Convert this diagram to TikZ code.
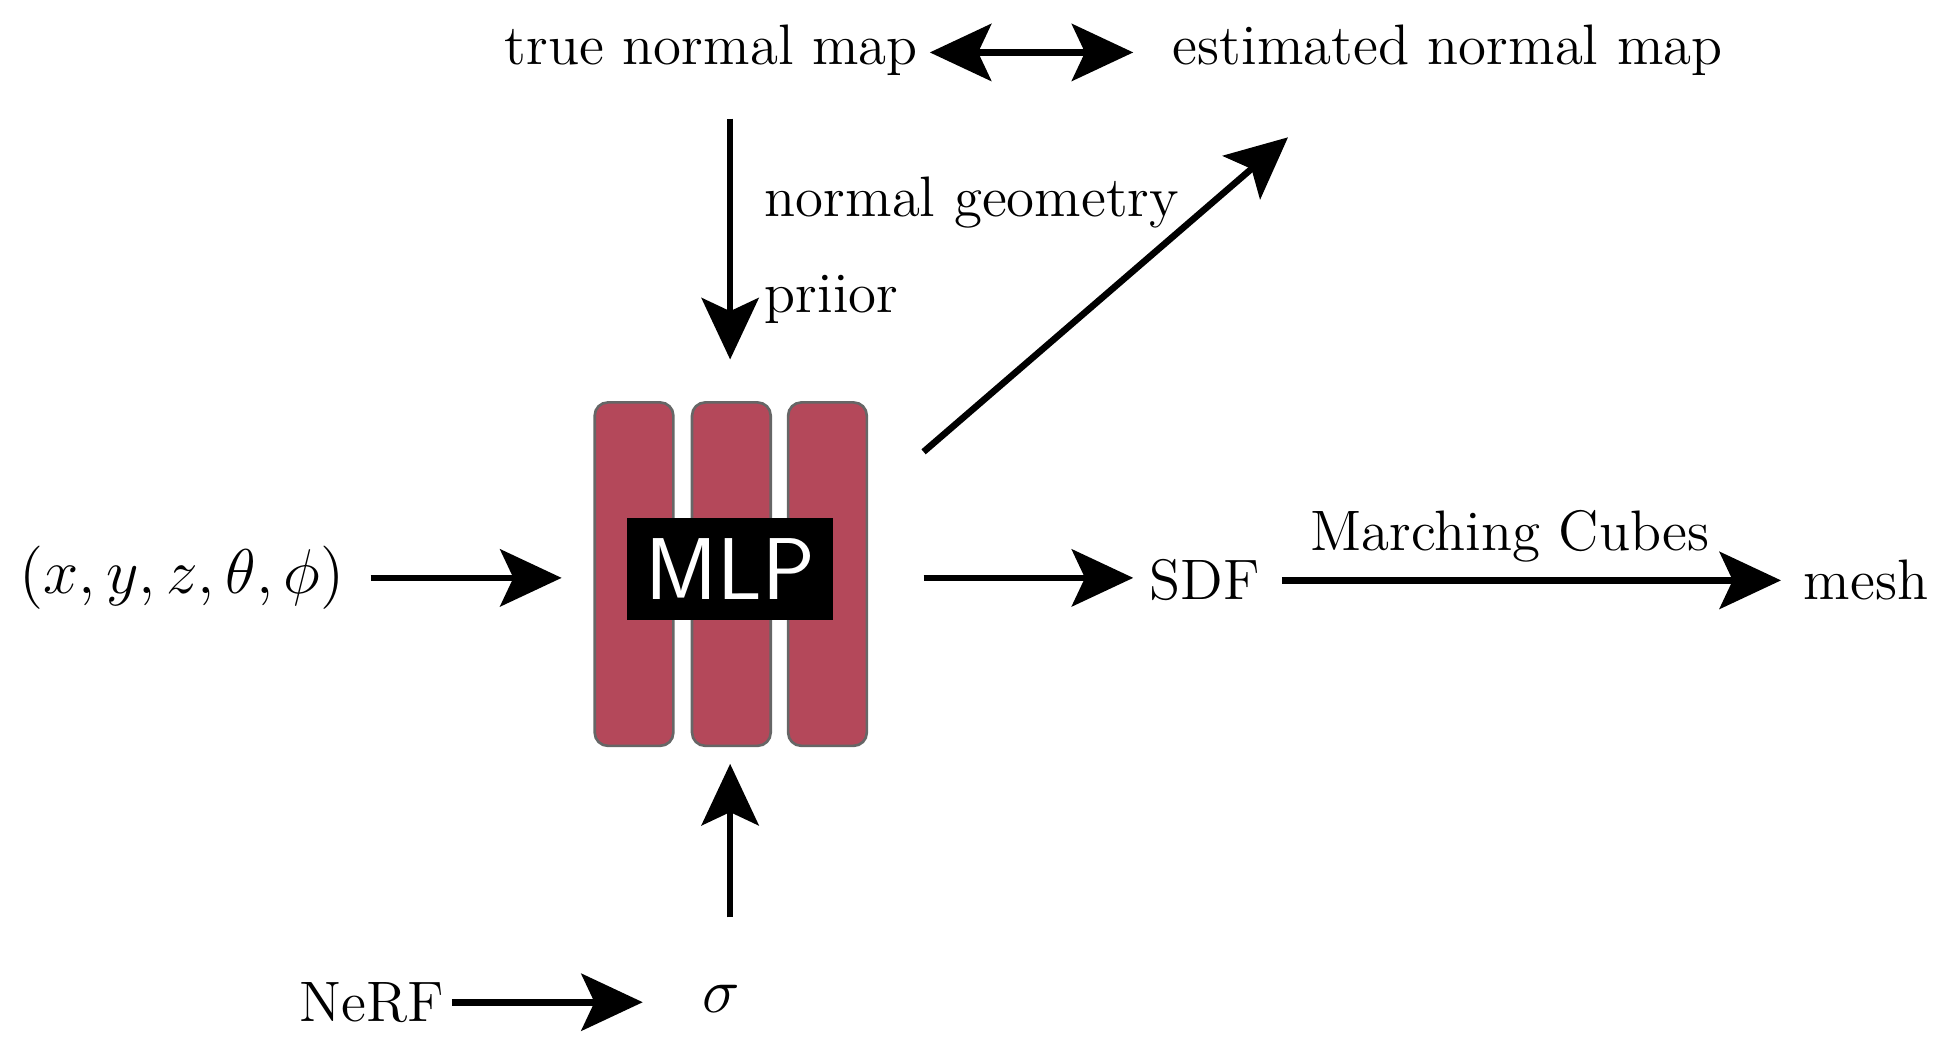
\documentclass[tikz,border=0pt]{standalone}
\usetikzlibrary{arrows.meta}
\definecolor{bar}{RGB}{180,72,90}
\begin{document}
\begin{tikzpicture}[x=0.01cm,y=-0.01cm,
  txt/.style={font=\fontsize{13}{16}\selectfont, inner sep=0pt},
  arr/.style={line width=1.5pt,-{Stealth[length=14pt,width=13pt,inset=3pt]}},
  barr/.style={draw=black!60, fill=bar, rounded corners=3pt, line width=0.6pt, minimum width=0.63cm, minimum height=2.75cm, inner sep=0pt}]
\useasboundingbox (0,0) rectangle (1560,835);
\node[txt] (tnm) at (570,40) {true normal map};
\node[txt] (enm) at (1160,40) {estimated normal map};
\coordinate (da1) at (745,42); \coordinate (da2) at (908,42);
\draw[line width=1.5pt,{Stealth[length=14pt,width=13pt,inset=3pt]}-{Stealth[length=14pt,width=13pt,inset=3pt]}] (da1) -- (da2);
\coordinate (d1) at (585,95); \coordinate (d2) at (585,288);
\draw[arr] (d1) -- (d2);
\node[txt,anchor=west] (ng) at (612,162) {normal geometry};
\node[txt,anchor=west] (pr) at (612,240) {priior};
\node[barr] (b1) at (508,460) {};
\node[barr] (b2) at (586,460) {};
\node[barr] (b3) at (663,460) {};
\node[fill=black,text=white,minimum width=1.65cm,minimum height=0.82cm,inner sep=0pt,font=\sffamily\fontsize{20}{22}\selectfont] (mlp) at (585,456) {MLP};
\coordinate (g1) at (740,362); \coordinate (g2) at (1032,110);
\draw[arr] (g1) -- (g2);
\node[txt,font=\fontsize{14.8}{18}\selectfont] (in) at (146,463) {$(x,y,z,\theta,\phi)$};
\coordinate (i1) at (297,463); \coordinate (i2) at (450,463);
\draw[arr] (i1) -- (i2);
\coordinate (s1) at (740,463); \coordinate (s2) at (908,463);
\draw[arr] (s1) -- (s2);
\node[txt] (sdf) at (965,465) {SDF};
\coordinate (m1) at (1027,465); \coordinate (m2) at (1427,465);
\draw[arr] (m1) -- (m2);
\node[txt] (mc) at (1210,430) {Marching Cubes};
\node[txt] (mesh) at (1495,465) {mesh};
\coordinate (u1) at (585,735); \coordinate (u2) at (585,612);
\draw[arr] (u1) -- (u2);
\node[txt,font=\fontsize{15}{18}\selectfont] (sig) at (578,800) {$\sigma$};
\node[txt] (nerf) at (298,803) {NeRF};
\coordinate (n1) at (362,803); \coordinate (n2) at (515,803);
\draw[arr] (n1) -- (n2);
\end{tikzpicture}
\end{document}
